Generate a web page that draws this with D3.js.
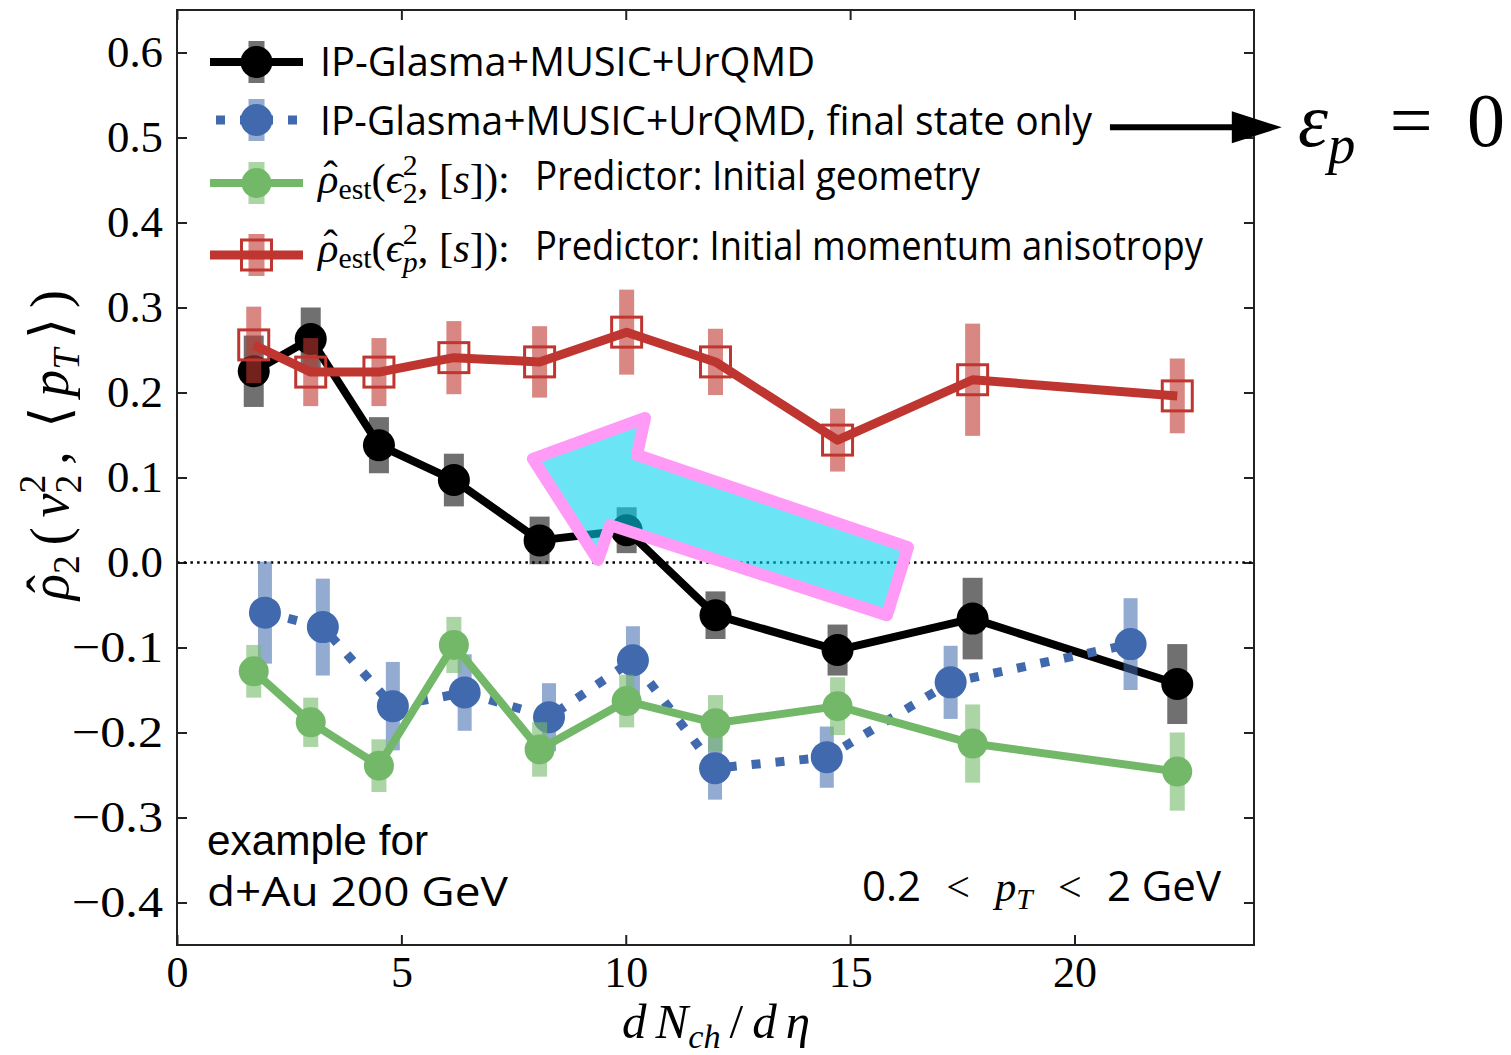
<!DOCTYPE html>
<html>
<head>
<meta charset="utf-8">
<script src="https://cdn.jsdelivr.net/npm/d3@7"></script>
<style>
  html, body { margin: 0; padding: 0; background: #fff; }
  svg { display: block; }
</style>
</head>
<body>
<script>
// ---- data: rho_2(v_2^2, <pT>) vs dNch/deta, d+Au 200 GeV ----
const fullX          = [1.71, 2.98, 4.50, 6.17, 8.08, 10.02, 12.00, 14.72, 17.73, 22.29];
const fullRho        = [0.225, 0.263, 0.138, 0.097, 0.026, 0.038, -0.062, -0.103, -0.066, -0.143];
const fullErr        = [0.042, 0.037, 0.033, 0.031, 0.028, 0.027, 0.028, 0.030, 0.048, 0.047];

const finalStateX    = [1.96, 3.25, 4.81, 6.41, 8.29, 10.16, 11.99, 14.48, 17.24, 21.25];
const finalStateRho  = [-0.059, -0.076, -0.169, -0.153, -0.182, -0.115, -0.242, -0.229, -0.141, -0.096];
const finalStateErr  = [0.060, 0.057, 0.052, 0.045, 0.040, 0.040, 0.037, 0.036, 0.043, 0.054];

const geomRho        = [-0.128, -0.188, -0.239, -0.097, -0.220, -0.163, -0.189, -0.169, -0.213, -0.246];
const geomErr        = [0.031, 0.029, 0.031, 0.033, 0.032, 0.031, 0.033, 0.034, 0.046, 0.046];

const momRho         = [0.256, 0.224, 0.224, 0.241, 0.236, 0.271, 0.236, 0.144, 0.215, 0.196];
const momErr         = [0.045, 0.040, 0.040, 0.043, 0.042, 0.050, 0.039, 0.037, 0.066, 0.044];

const xTicks = [0, 5, 10, 15, 20];
const yTicks = [-0.4, -0.3, -0.2, -0.1, 0.0, 0.1, 0.2, 0.3, 0.4, 0.5, 0.6];

// highlight arrow outline (data coordinates) and the pointer to the epsilon_p note
const arrowX = [7.93, 10.43, 10.25, 16.29, 15.82, 9.65, 9.38];
const arrowY = [0.122, 0.170, 0.1265, 0.018, -0.062, 0.044, 0.003];
const pointerX = [20.79, 24.62];
const pointerY = 0.512;

// ---- setup ----
const W = 1511, H = 1055;
const SERIF = "'Liberation Serif', 'DejaVu Serif', serif";
const SANS = "'Open Sans', 'Noto Sans', sans-serif";

const svg = d3.select("body").append("svg").attr("width", W).attr("height", H);
svg.append("rect").attr("width", W).attr("height", H).attr("fill", "#fff");

const x = d3.scaleLinear().domain([0, 24]).range([177, 1254]);
const y = d3.scaleLinear().domain([-0.45, 0.65]).range([945, 10]);

// ---- math-ish text layout helper ----
// parts: {t, i (italic), s (size factor), dy (em shift), stack (share x with previous), hat, f}
function layout(parent, parts, size, gap) {
  const g = parent.append("g");
  let cx = 0, prevX = 0, prevW = 0;
  parts.forEach((p, k) => {
    const fs = size * (p.s || 1);
    const t = g.append("text").text(p.t)
      .attr("font-family", p.f === "sans" ? SANS : SERIF)
      .attr("font-style", p.i ? "italic" : "normal")
      .attr("font-size", fs)
      .attr("fill", "#000")
      .attr("y", (p.dy || 0) * size)
      .style("white-space", "pre");
    const w = t.node().getComputedTextLength();
    if (p.stack) {
      t.attr("x", prevX);
      prevW = Math.max(prevW, w);
      cx = prevX + prevW;
    } else {
      const extra = (k > 0 && !p.s) ? gap : 0;
      const x0 = cx + extra;
      t.attr("x", x0);
      prevX = x0; prevW = w; cx = x0 + w;
    }
    if (p.hat) {
      g.append("text").text("ˆ")
        .attr("font-family", SERIF).attr("font-size", fs)
        .attr("text-anchor", "middle")
        .attr("x", prevX + w * 0.62).attr("y", -size * 0.06);
    }
  });
  return { g, width: cx };
}
// lays out the parts, grows the size up to maxSize toward fitWidth, then spreads any remainder
function mathText(parent, x0, y0, parts, size, anchor, fitWidth, maxSize) {
  let r = layout(parent, parts, size, 0);
  if (fitWidth) {
    r.g.remove();
    const s2 = Math.min(maxSize || size, size * fitWidth / r.width);
    r = layout(parent, parts, s2, 0);
    if (r.width < fitWidth - 1) {
      r.g.remove();
      const n = parts.filter((p, k) => k > 0 && !p.s && !p.stack).length;
      r = layout(parent, parts, s2, n ? (fitWidth - r.width) / n : 0);
    }
  }
  const off = anchor === "end" ? -r.width : anchor === "middle" ? -r.width / 2 : 0;
  r.g.attr("transform", `translate(${x0 + off},${y0})`);
  return r.g;
}

// ---- axes ----
const axes = svg.append("g");
axes.append("g").attr("transform", `translate(0,${y.range()[0]})`)
  .call(d3.axisBottom(x).tickValues(xTicks).tickSize(-10).tickPadding(11).tickFormat(d3.format("d")))
  .call(g => g.selectAll("text").attr("font-family", SERIF).attr("font-size", 44).attr("fill", "#000"));
axes.append("g").attr("transform", `translate(0,${y.range()[1]})`)
  .call(d3.axisTop(x).tickValues(xTicks).tickSize(-10).tickFormat(""));
axes.append("g").attr("transform", `translate(${x.range()[0]},0)`)
  .call(d3.axisLeft(y).tickValues(yTicks).tickSize(-10).tickPadding(14)
    .tickFormat(d => (d < 0 ? "\u2212" : "") + Math.abs(d).toFixed(1)))
  .call(g => g.selectAll("text").attr("font-family", SERIF).attr("font-size", 44).attr("fill", "#000")
    .attr("textLength", d => d < 0 ? 91 : 56).attr("lengthAdjust", "spacingAndGlyphs"));
axes.append("g").attr("transform", `translate(${x.range()[1]},0)`)
  .call(d3.axisRight(y).tickValues(yTicks).tickSize(-10).tickFormat(""));
axes.selectAll(".domain").remove();
axes.selectAll(".tick line").attr("stroke", "#222").attr("stroke-width", 2);

// zero reference line
svg.append("line")
  .attr("x1", x(0)).attr("x2", x(24)).attr("y1", y(0)).attr("y2", y(0))
  .attr("stroke", "#000").attr("stroke-width", 2.5).attr("stroke-dasharray", "2.5,4.2");

// ---- series ----
const series = [
  { xs: fullX, ys: fullRho, es: fullErr, color: "#000000", bar: "rgba(0,0,0,0.56)", barW: 20,
    lw: 8, dash: null, marker: "circle", r: 16 },
  { xs: finalStateX, ys: finalStateRho, es: finalStateErr, color: "#4169ad", bar: "rgba(65,105,174,0.57)", barW: 14,
    lw: 9, dash: "9,15", marker: "circle", r: 16 },
  { xs: fullX, ys: geomRho, es: geomErr, color: "#73b869", bar: "rgba(116,185,107,0.6)", barW: 15,
    lw: 8, dash: null, marker: "circle", r: 15 },
  { xs: fullX, ys: momRho, es: momErr, color: "#bf3631", bar: "rgba(192,55,47,0.6)", barW: 15,
    lw: 9, dash: null, marker: "square", r: 15 }
];

const plot = svg.append("g");
series.forEach(s => {
  const pts = s.xs.map((xv, i) => ({ x: xv, y: s.ys[i], e: s.es[i] }));
  const g = plot.append("g");
  g.selectAll("rect.err").data(pts).join("rect").attr("class", "err")
    .attr("x", d => x(d.x) - s.barW / 2).attr("width", s.barW)
    .attr("y", d => y(d.y + d.e)).attr("height", d => y(d.y - d.e) - y(d.y + d.e))
    .attr("fill", s.bar);
  g.append("path").datum(pts)
    .attr("d", d3.line().x(d => x(d.x)).y(d => y(d.y)))
    .attr("fill", "none").attr("stroke", s.color).attr("stroke-width", s.lw)
    .attr("stroke-linejoin", "round")
    .attr("stroke-dasharray", s.dash);
  if (s.marker === "circle") {
    g.selectAll("circle").data(pts).join("circle")
      .attr("cx", d => x(d.x)).attr("cy", d => y(d.y)).attr("r", s.r).attr("fill", s.color);
  } else {
    g.selectAll("rect.mk").data(pts).join("rect").attr("class", "mk")
      .attr("x", d => x(d.x) - s.r).attr("y", d => y(d.y) - s.r)
      .attr("width", 2 * s.r).attr("height", 2 * s.r)
      .attr("fill", "none").attr("stroke", s.color).attr("stroke-width", 3);
  }
});

// frame
svg.append("rect")
  .attr("x", x(0)).attr("y", y(0.65)).attr("width", x(24) - x(0)).attr("height", y(-0.45) - y(0.65))
  .attr("fill", "none").attr("stroke", "#222").attr("stroke-width", 2);

// ---- legend ----
const legendRows = [
  { y: 62, s: series[0] },
  { y: 120, s: series[1] },
  { y: 183, s: series[2] },
  { y: 255, s: series[3] }
];
const leg = svg.append("g");
legendRows.forEach(row => {
  const s = row.s;
  leg.append("rect").attr("x", 256.5 - 8).attr("width", 16)
    .attr("y", row.y - 21).attr("height", 42).attr("fill", s.bar);
  leg.append("line").attr("x1", 210).attr("x2", 303).attr("y1", row.y).attr("y2", row.y)
    .attr("stroke", s.color).attr("stroke-width", s.lw)
    .attr("stroke-dasharray", s.dash).attr("stroke-dashoffset", s.dash ? -6 : null);
  if (s.marker === "circle") {
    leg.append("circle").attr("cx", 256.5).attr("cy", row.y).attr("r", s.r).attr("fill", s.color);
  } else {
    leg.append("rect").attr("x", 256.5 - s.r).attr("y", row.y - s.r).attr("width", 2 * s.r).attr("height", 2 * s.r)
      .attr("fill", "none").attr("stroke", s.color).attr("stroke-width", 3);
  }
});

function sansText(x0, y0, str, size, len, anchor) {
  return svg.append("text").text(str)
    .attr("x", x0).attr("y", y0)
    .attr("font-family", SANS).attr("font-size", size).attr("fill", "#000")
    .attr("text-anchor", anchor || "start")
    .attr("textLength", len).attr("lengthAdjust", "spacingAndGlyphs");
}

sansText(320, 76, "IP-Glasma+MUSIC+UrQMD", 40, 495);
sansText(320, 135, "IP-Glasma+MUSIC+UrQMD, final state only", 40, 772);

function estParts(sub, subItalic) {
  return [
    { t: "ρ", i: true, hat: true },
    { t: "est", s: 0.7, dy: 0.14 },
    { t: "(" },
    { t: "ϵ", i: true },
    { t: "2", s: 0.7, dy: -0.42 },
    { t: sub, s: 0.7, dy: 0.24, stack: true, i: subItalic },
    { t: ", " },
    { t: "[" },
    { t: "s", i: true },
    { t: "]" },
    { t: ")" },
    { t: ":" }
  ];
}
mathText(svg, 318, 193, estParts("2", false), 42, "start", 192, 45);
sansText(535, 190, "Predictor: Initial geometry", 40, 445);
mathText(svg, 318, 262, estParts("p", true), 42, "start", 192, 45);
sansText(535, 260, "Predictor: Initial momentum anisotropy", 40, 668);

// ---- axis titles ----
const yl = svg.append("g").attr("transform", "translate(68,445) rotate(-90)");
mathText(yl, 0, 0, [
  { t: "ρ", i: true, hat: true },
  { t: "2", s: 0.7, dy: 0.2 },
  { t: "(" },
  { t: "v", i: true },
  { t: "2", s: 0.7, dy: -0.42 },
  { t: "2", s: 0.7, dy: 0.24, stack: true },
  { t: ", " },
  { t: "⟨" },
  { t: "p", i: true },
  { t: "T", i: true, s: 0.7, dy: 0.2 },
  { t: "⟩" },
  { t: ")" }
], 48, "middle", 310, 54);

mathText(svg, 716, 1038, [
  { t: "d", i: true },
  { t: "N", i: true },
  { t: "ch", i: true, s: 0.7, dy: 0.2 },
  { t: "/" },
  { t: "d", i: true },
  { t: "η", i: true }
], 45, "middle", 188, 49);

// ---- annotations ----
svg.append("text").text("example for")
  .attr("x", 207).attr("y", 855)
  .attr("font-family", "'Liberation Sans', Arial, sans-serif").attr("font-size", 42)
  .attr("textLength", 221).attr("lengthAdjust", "spacingAndGlyphs");
sansText(207, 906, "d+Au 200 GeV", 40, 301);

mathText(svg, 1221, 901, [
  { t: "0.2", f: "sans" },
  { t: " < " },
  { t: "p", i: true },
  { t: "T", i: true, s: 0.7, dy: 0.2 },
  { t: " < " },
  { t: "2 GeV", f: "sans" }
], 40, "end", 359, 42);

// pointer to the epsilon_p note
svg.append("line")
  .attr("x1", x(pointerX[0])).attr("x2", x(pointerX[1]) - 45)
  .attr("y1", y(pointerY)).attr("y2", y(pointerY))
  .attr("stroke", "#000").attr("stroke-width", 6);
svg.append("path")
  .attr("d", `M${x(pointerX[1]) - 50},${y(pointerY) - 16} L${x(pointerX[1])},${y(pointerY)} L${x(pointerX[1]) - 50},${y(pointerY) + 16} Z`)
  .attr("fill", "#000");

mathText(svg, 1298, 146, [
  { t: "ε", i: true },
  { t: "p", i: true, s: 0.72, dy: 0.22 },
  { t: " = " },
  { t: "0" }
], 68, "start", 207, 76);

// highlight arrow over the data
const arrowPts = arrowX.map((v, i) => [x(v), y(arrowY[i])]);
svg.append("path")
  .attr("d", "M" + arrowPts.map(p => p.join(",")).join("L") + "Z")
  .attr("fill", "rgba(0,208,240,0.58)")
  .attr("stroke", "#ff9af6").attr("stroke-width", 12).attr("stroke-linejoin", "round");
</script>
</body>
</html>
